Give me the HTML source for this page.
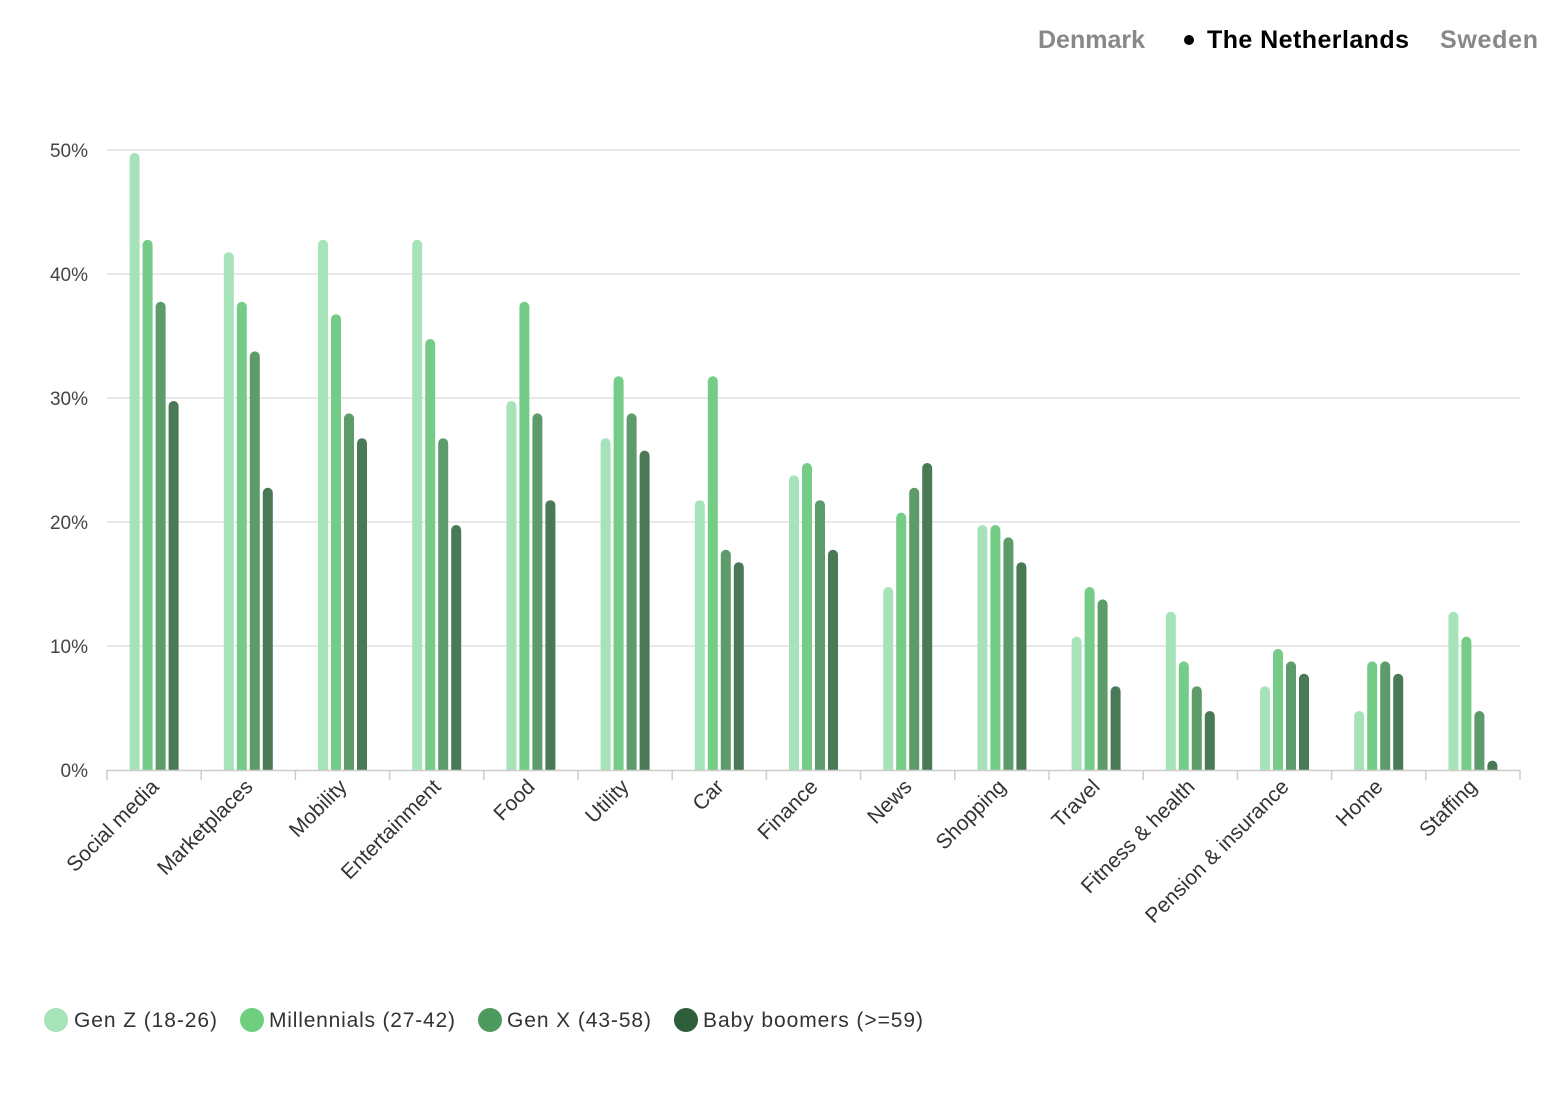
<!DOCTYPE html>
<html><head><meta charset="utf-8"><style>
body{margin:0;background:#fff;width:1560px;height:1105px;overflow:hidden;font-family:"Liberation Sans",sans-serif}
</style></head><body>
<svg width="1560" height="1105" xmlns="http://www.w3.org/2000/svg" font-family="Liberation Sans, sans-serif">
<defs><clipPath id="c"><rect x="0" y="0" width="1560" height="767"/></clipPath></defs>
<g font-size="25" font-weight="bold">
<text x="1038" y="48" fill="#888">Denmark</text>
<circle cx="1189" cy="40" r="5" fill="#000"/>
<text x="1207" y="48" fill="#000" textLength="202">The Netherlands</text>
<text x="1440" y="48" fill="#888" textLength="98">Sweden</text>
</g>
<g stroke="#e2e2e2" stroke-width="1.5">
<line x1="107" x2="1520" y1="150" y2="150"/><line x1="107" x2="1520" y1="274" y2="274"/>
<line x1="107" x2="1520" y1="398" y2="398"/><line x1="107" x2="1520" y1="522" y2="522"/>
<line x1="107" x2="1520" y1="646" y2="646"/>
</g>
<g font-size="19" fill="#444" text-anchor="end">
<text x="88" y="157">50%</text><text x="88" y="281">40%</text><text x="88" y="405">30%</text>
<text x="88" y="529">20%</text><text x="88" y="653">10%</text><text x="88" y="777">0%</text>
</g>
<g clip-path="url(#c)" transform="translate(0,3)">
<g transform="translate(154.1,0)"><rect x="-24.5" y="150" width="10" height="626" rx="5" fill="#a6e3b9"/><rect x="-11.5" y="236.8" width="10" height="539.2" rx="5" fill="#74cc86"/><rect x="1.5" y="298.8" width="10" height="477.2" rx="5" fill="#5d9b6b"/><rect x="14.5" y="398" width="10" height="378" rx="5" fill="#4a7a55"/></g>
<g transform="translate(248.3,0)"><rect x="-24.5" y="249.2" width="10" height="526.8" rx="5" fill="#a6e3b9"/><rect x="-11.5" y="298.8" width="10" height="477.2" rx="5" fill="#74cc86"/><rect x="1.5" y="348.4" width="10" height="427.6" rx="5" fill="#5d9b6b"/><rect x="14.5" y="484.8" width="10" height="291.2" rx="5" fill="#4a7a55"/></g>
<g transform="translate(342.5,0)"><rect x="-24.5" y="236.8" width="10" height="539.2" rx="5" fill="#a6e3b9"/><rect x="-11.5" y="311.2" width="10" height="464.8" rx="5" fill="#74cc86"/><rect x="1.5" y="410.4" width="10" height="365.6" rx="5" fill="#5d9b6b"/><rect x="14.5" y="435.2" width="10" height="340.8" rx="5" fill="#4a7a55"/></g>
<g transform="translate(436.7,0)"><rect x="-24.5" y="236.8" width="10" height="539.2" rx="5" fill="#a6e3b9"/><rect x="-11.5" y="336" width="10" height="440" rx="5" fill="#74cc86"/><rect x="1.5" y="435.2" width="10" height="340.8" rx="5" fill="#5d9b6b"/><rect x="14.5" y="522" width="10" height="254" rx="5" fill="#4a7a55"/></g>
<g transform="translate(530.9,0)"><rect x="-24.5" y="398" width="10" height="378" rx="5" fill="#a6e3b9"/><rect x="-11.5" y="298.8" width="10" height="477.2" rx="5" fill="#74cc86"/><rect x="1.5" y="410.4" width="10" height="365.6" rx="5" fill="#5d9b6b"/><rect x="14.5" y="497.2" width="10" height="278.8" rx="5" fill="#4a7a55"/></g>
<g transform="translate(625.1,0)"><rect x="-24.5" y="435.2" width="10" height="340.8" rx="5" fill="#a6e3b9"/><rect x="-11.5" y="373.2" width="10" height="402.8" rx="5" fill="#74cc86"/><rect x="1.5" y="410.4" width="10" height="365.6" rx="5" fill="#5d9b6b"/><rect x="14.5" y="447.6" width="10" height="328.4" rx="5" fill="#4a7a55"/></g>
<g transform="translate(719.3,0)"><rect x="-24.5" y="497.2" width="10" height="278.8" rx="5" fill="#a6e3b9"/><rect x="-11.5" y="373.2" width="10" height="402.8" rx="5" fill="#74cc86"/><rect x="1.5" y="546.8" width="10" height="229.2" rx="5" fill="#5d9b6b"/><rect x="14.5" y="559.2" width="10" height="216.8" rx="5" fill="#4a7a55"/></g>
<g transform="translate(813.5,0)"><rect x="-24.5" y="472.4" width="10" height="303.6" rx="5" fill="#a6e3b9"/><rect x="-11.5" y="460" width="10" height="316" rx="5" fill="#74cc86"/><rect x="1.5" y="497.2" width="10" height="278.8" rx="5" fill="#5d9b6b"/><rect x="14.5" y="546.8" width="10" height="229.2" rx="5" fill="#4a7a55"/></g>
<g transform="translate(907.7,0)"><rect x="-24.5" y="584" width="10" height="192" rx="5" fill="#a6e3b9"/><rect x="-11.5" y="509.6" width="10" height="266.4" rx="5" fill="#74cc86"/><rect x="1.5" y="484.8" width="10" height="291.2" rx="5" fill="#5d9b6b"/><rect x="14.5" y="460" width="10" height="316" rx="5" fill="#4a7a55"/></g>
<g transform="translate(1001.9,0)"><rect x="-24.5" y="522" width="10" height="254" rx="5" fill="#a6e3b9"/><rect x="-11.5" y="522" width="10" height="254" rx="5" fill="#74cc86"/><rect x="1.5" y="534.4" width="10" height="241.6" rx="5" fill="#5d9b6b"/><rect x="14.5" y="559.2" width="10" height="216.8" rx="5" fill="#4a7a55"/></g>
<g transform="translate(1096.1,0)"><rect x="-24.5" y="633.6" width="10" height="142.4" rx="5" fill="#a6e3b9"/><rect x="-11.5" y="584" width="10" height="192" rx="5" fill="#74cc86"/><rect x="1.5" y="596.4" width="10" height="179.6" rx="5" fill="#5d9b6b"/><rect x="14.5" y="683.2" width="10" height="92.8" rx="5" fill="#4a7a55"/></g>
<g transform="translate(1190.3,0)"><rect x="-24.5" y="608.8" width="10" height="167.2" rx="5" fill="#a6e3b9"/><rect x="-11.5" y="658.4" width="10" height="117.6" rx="5" fill="#74cc86"/><rect x="1.5" y="683.2" width="10" height="92.8" rx="5" fill="#5d9b6b"/><rect x="14.5" y="708" width="10" height="68" rx="5" fill="#4a7a55"/></g>
<g transform="translate(1284.5,0)"><rect x="-24.5" y="683.2" width="10" height="92.8" rx="5" fill="#a6e3b9"/><rect x="-11.5" y="646" width="10" height="130" rx="5" fill="#74cc86"/><rect x="1.5" y="658.4" width="10" height="117.6" rx="5" fill="#5d9b6b"/><rect x="14.5" y="670.8" width="10" height="105.2" rx="5" fill="#4a7a55"/></g>
<g transform="translate(1378.7,0)"><rect x="-24.5" y="708" width="10" height="68" rx="5" fill="#a6e3b9"/><rect x="-11.5" y="658.4" width="10" height="117.6" rx="5" fill="#74cc86"/><rect x="1.5" y="658.4" width="10" height="117.6" rx="5" fill="#5d9b6b"/><rect x="14.5" y="670.8" width="10" height="105.2" rx="5" fill="#4a7a55"/></g>
<g transform="translate(1472.9,0)"><rect x="-24.5" y="608.8" width="10" height="167.2" rx="5" fill="#a6e3b9"/><rect x="-11.5" y="633.6" width="10" height="142.4" rx="5" fill="#74cc86"/><rect x="1.5" y="708" width="10" height="68" rx="5" fill="#5d9b6b"/><rect x="14.5" y="757.6" width="10" height="18.4" rx="5" fill="#4a7a55"/></g>
</g>
<g stroke="#ccc" stroke-width="1.5">
<line x1="107" x2="1520" y1="770.5" y2="770.5"/>
<line x1="107" x2="107" y1="770" y2="780"/><line x1="201.2" x2="201.2" y1="770" y2="780"/><line x1="295.4" x2="295.4" y1="770" y2="780"/><line x1="389.6" x2="389.6" y1="770" y2="780"/><line x1="483.8" x2="483.8" y1="770" y2="780"/><line x1="578" x2="578" y1="770" y2="780"/><line x1="672.2" x2="672.2" y1="770" y2="780"/><line x1="766.4" x2="766.4" y1="770" y2="780"/><line x1="860.6" x2="860.6" y1="770" y2="780"/><line x1="954.8" x2="954.8" y1="770" y2="780"/><line x1="1049" x2="1049" y1="770" y2="780"/><line x1="1143.2" x2="1143.2" y1="770" y2="780"/><line x1="1237.4" x2="1237.4" y1="770" y2="780"/><line x1="1331.6" x2="1331.6" y1="770" y2="780"/><line x1="1425.8" x2="1425.8" y1="770" y2="780"/><line x1="1520" x2="1520" y1="770" y2="780"/>
</g>
<g font-size="21" fill="#333" text-anchor="end">
<text transform="translate(160,788) rotate(-45)">Social media</text>
<text transform="translate(254,788) rotate(-45)">Marketplaces</text>
<text transform="translate(348,788) rotate(-45)">Mobility</text>
<text transform="translate(442,788) rotate(-45)">Entertainment</text>
<text transform="translate(536,788) rotate(-45)">Food</text>
<text transform="translate(630,788) rotate(-45)">Utility</text>
<text transform="translate(725,788) rotate(-45)">Car</text>
<text transform="translate(819,788) rotate(-45)">Finance</text>
<text transform="translate(913,788) rotate(-45)">News</text>
<text transform="translate(1007,788) rotate(-45)">Shopping</text>
<text transform="translate(1101,788) rotate(-45)">Travel</text>
<text transform="translate(1196,788) rotate(-45)">Fitness &amp; health</text>
<text transform="translate(1290,788) rotate(-45)">Pension &amp; insurance</text>
<text transform="translate(1384,788) rotate(-45)">Home</text>
<text transform="translate(1478,788) rotate(-45)">Staffing</text>
</g>
<g font-size="21" fill="#333">
<circle cx="56" cy="1020" r="12" fill="#a6e3b9"/><text x="74" y="1027" textLength="143">Gen Z (18-26)</text>
<circle cx="252" cy="1020" r="12" fill="#6fcf7f"/><text x="269" y="1027" textLength="186">Millennials (27-42)</text>
<circle cx="490" cy="1020" r="12" fill="#4d9a5e"/><text x="507" y="1027" textLength="144">Gen X (43-58)</text>
<circle cx="686" cy="1020" r="12" fill="#2e5e3a"/><text x="703" y="1027" textLength="220">Baby boomers (&gt;=59)</text>
</g>
</svg>
</body></html>
